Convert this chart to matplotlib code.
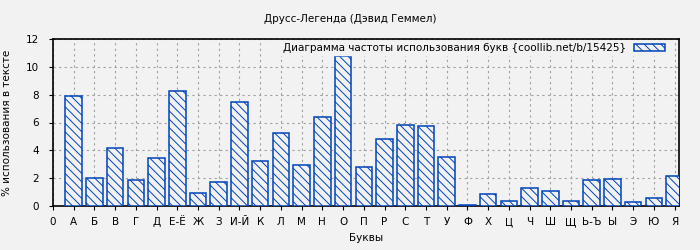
import matplotlib.pyplot as plt
import numpy as np

plt.rcParams['font.family'] = ['DejaVu Sans']
plt.rcParams['hatch.color'] = '#0044bb'
plt.rcParams['hatch.linewidth'] = 0.7

letters = ["А", "Б", "В", "Г", "Д", "Е-Ё", "Ж", "З", "И-Й", "К", "Л", "М", "Н", "О", "П",
           "Р", "С", "Т", "У", "Ф", "Х", "Ц", "Ч", "Ш", "Щ", "Ь-Ъ", "Ы", "Э", "Ю", "Я"]
freq = [7.9, 2.0, 4.2, 1.85, 3.43, 8.24, 0.91, 1.7, 7.45, 3.21, 5.22, 2.92, 6.37, 10.75, 2.78,
        4.79, 5.82, 5.72, 3.5, 0.07, 0.84, 0.34, 1.29, 1.05, 0.34, 1.87, 1.96, 0.26, 0.57, 2.13]

bg = "#f2f2f2"
fs = 7.5
fig = plt.figure(figsize=(7, 2.5), dpi=100, facecolor=bg)
ax = fig.add_axes([0.0757, 0.176, 0.894, 0.668], facecolor=bg)

x = np.arange(1, len(letters) + 1)
ax.bar(x, freq, width=0.8, color=bg, edgecolor="#0044bb", linewidth=1.1, hatch="\\\\\\\\",
       label="Диаграмма частоты использования букв {coollib.net/b/15425}", zorder=3)

ax.set_xlim(0, 30.2)
ax.set_ylim(0, 12)
ax.set_xticks(np.arange(0, 31))
ax.set_xticklabels(["0"] + letters)
ax.set_yticks(np.arange(0, 13, 2))
ax.tick_params(labelsize=fs, length=3, direction="out", pad=5)
ax.tick_params(axis="y", pad=7)
ax.grid(True, linestyle=(0, (2, 3)), color="#a0a0a0", linewidth=0.8, zorder=0)
for s in ax.spines.values():
    s.set_linewidth(1.2)
    s.set_color("black")

ax.set_xlabel("Буквы", fontsize=fs)
ax.set_ylabel("% использования в тексте", fontsize=fs, labelpad=10)
fig.suptitle("Друсс-Легенда (Дэвид Геммел)", fontsize=fs, y=0.945)

leg = ax.legend(loc="upper right", fontsize=fs, frameon=True, markerfirst=False,
                handlelength=3.0, handleheight=0.6, borderaxespad=0.2, borderpad=0.2,
                handletextpad=0.8, fancybox=False, bbox_to_anchor=(0.985, 1.0))
leg.get_frame().set_facecolor(bg)
leg.get_frame().set_edgecolor(bg)
leg.get_frame().set_alpha(1)

fig.savefig("out.png", dpi=100, facecolor=bg)
